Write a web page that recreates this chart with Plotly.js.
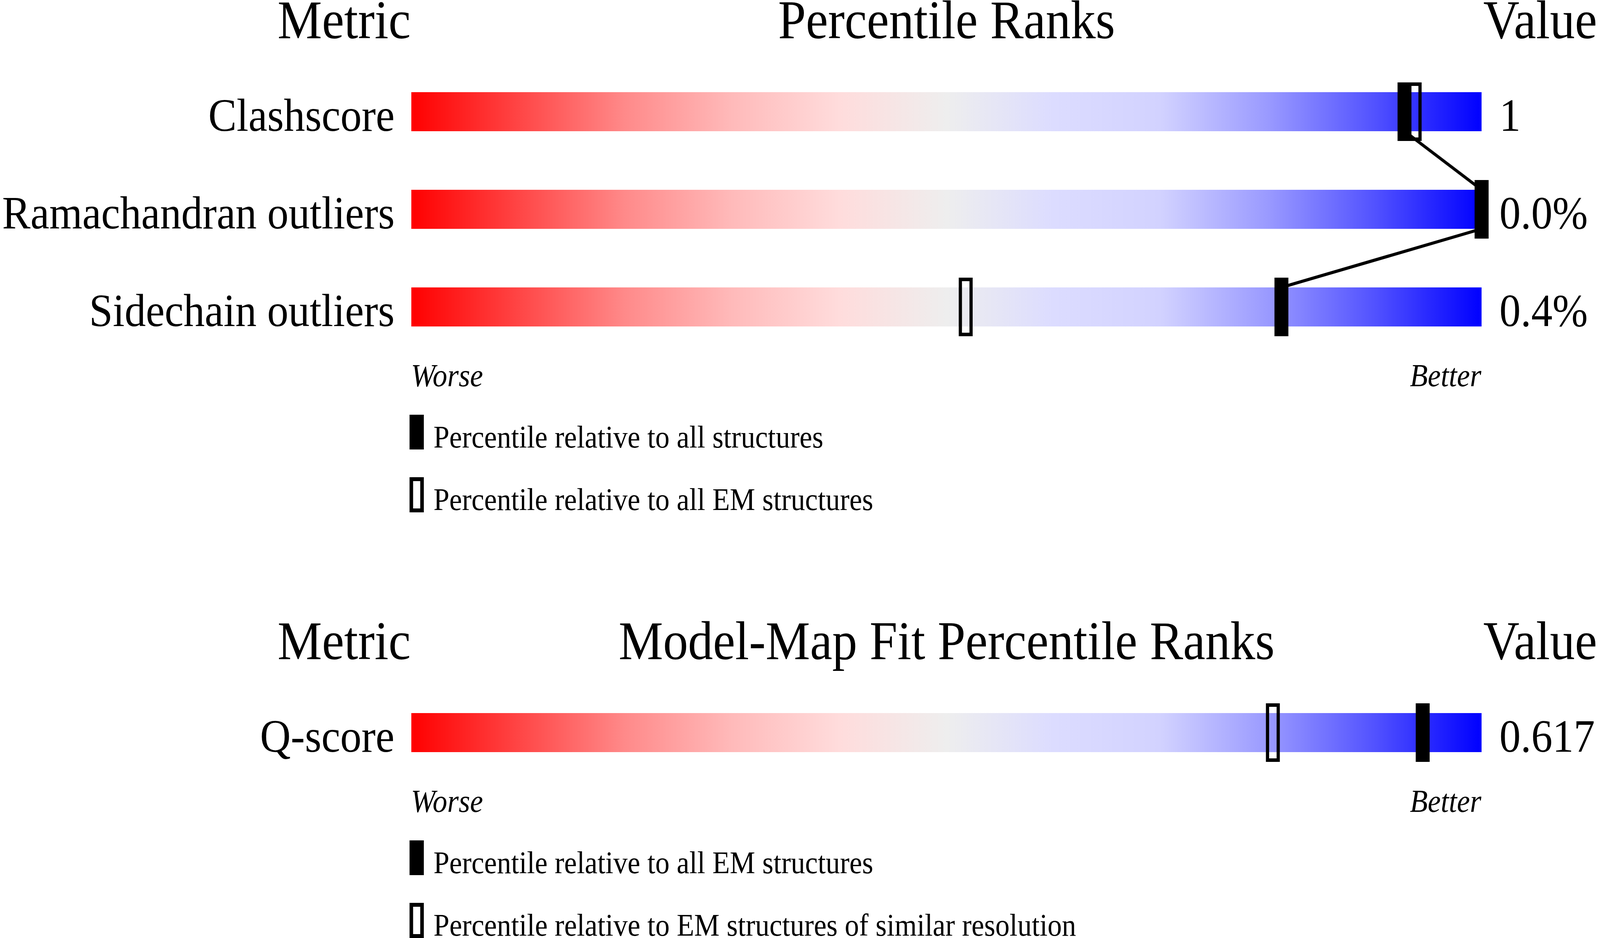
<!DOCTYPE html>
<html>
<head>
<meta charset="utf-8" />
<script src="https://cdn.plot.ly/plotly-3.0.1.min.js"></script>
<style>
  html, body { margin: 0; padding: 0; background: #fff; overflow: hidden; }
  #chart { width: 4485px; height: 2402px; transform-origin: 0 0; }
</style>
</head>
<body>
<div id="chart"></div>
<script>
  // Werte
  const geoTitle = "Percentile Ranks";
  const geoMetrics = ["Clashscore", "Ramachandran outliers", "Sidechain outliers"];
  const geoValues = ["1", "0.0%", "0.4%"];
  const geoAll = [92.8, 100, 81.3];
  const geoEM = [93.75, 100, 51.8];
  const geoLegend = ["Percentile relative to all structures", "Percentile relative to all EM structures"];

  const fitTitle = "Model-Map Fit Percentile Ranks";
  const fitMetrics = ["Q-score"];
  const fitValues = ["0.617"];
  const fitAll = [94.5];
  const fitSimilar = [80.5];
  const fitLegend = ["Percentile relative to all EM structures", "Percentile relative to EM structures of similar resolution"];

  // Layout ist für 4485x2402 gebaut, das Fenster kann kleiner sein -> auf Fenster strecken
  const W = 4485, H = 2402;
  const sx = (window.innerWidth || W) / W, sy = (window.innerHeight || H) / H;
  document.getElementById("chart").style.transform = `scale(${sx}, ${sy})`;

  const FONT = "Liberation Serif, Times New Roman, serif";
  // Balken 0..100 liegt auf x = 1153..4153, eine Zeile = 250 px
  const X0 = 1153, XS = 30, ROW = 250;
  const xRange = [-X0 / XS, (W - X0) / XS];

  const gradient = [
    [0, "#ff0000"], [0.1, "#ff4545"], [0.2, "#ff8a8a"], [0.3, "#ffbaba"],
    [0.4, "#ffdcdc"], [0.5, "#eeeeee"], [0.6, "#dcdcff"], [0.7, "#d2d2ff"],
    [0.8, "#9a9aff"], [0.9, "#5252ff"], [1, "#0000ff"]
  ];

  const panels = [
    { title: geoTitle, metrics: geoMetrics, values: geoValues, solid: geoAll, open: geoEM,
      legend: geoLegend, center: 286, axBar: "y", axMark: "y3", linked: true },
    { title: fitTitle, metrics: fitMetrics, values: fitValues, solid: fitAll, open: fitSimilar,
      legend: fitLegend, center: 1876, axBar: "y2", axMark: "y4", linked: false }
  ];

  const traces = [];
  const annotations = [];
  const shapes = [];
  const layout = {
    width: W, height: H, autosize: false,
    margin: { l: 0, r: 0, t: 0, b: 0 },
    paper_bgcolor: "white", plot_bgcolor: "white",
    showlegend: false, barmode: "overlay",
    xaxis: { range: xRange, visible: false, fixedrange: true },
    annotations, shapes
  };

  panels.forEach((p, pi) => {
    const range = [(H - p.center) / ROW, -p.center / ROW];
    const axBase = { range: range, visible: false, fixedrange: true };
    if (pi === 0) layout.yaxis = axBase;
    else layout["yaxis" + p.axBar.slice(1)] = Object.assign({ overlaying: "y" }, axBase);
    layout["yaxis" + p.axMark.slice(1)] = Object.assign({ overlaying: "y" }, axBase);
    const ref = p.axBar;
    const rows = p.metrics.map((_, i) => i);
    const last = rows.length - 1;

    // Farbverlaufsbalken
    rows.forEach((i) => {
      traces.push({
        type: "scatter", mode: "lines", yaxis: p.axBar,
        x: [0, 100, 100, 0, 0],
        y: [i - 0.2, i - 0.2, i + 0.2, i + 0.2, i - 0.2],
        fill: "toself", line: { width: 0 },
        fillgradient: { type: "horizontal", colorscale: gradient, start: 0, stop: 100 },
        hoverinfo: "skip"
      });
    });

    // offene Marker
    traces.push({
      type: "bar", yaxis: p.axMark, x: p.open, y: rows.map(() => 0.564),
      base: rows.map((i) => i - 0.282), width: 1.0,
      marker: { color: "rgba(0,0,0,0)", line: { color: "black", width: 9 } },
      hoverinfo: "skip"
    });
    // gefüllte Marker
    traces.push({
      type: "bar", yaxis: p.axMark, x: p.solid, y: rows.map(() => 0.6),
      base: rows.map((i) => i - 0.3), width: 1.3,
      marker: { color: "black", line: { width: 0 } },
      hoverinfo: "skip"
    });
    // Verbindungslinien zwischen den gefüllten Markern
    if (p.linked) {
      const lx = [], ly = [];
      for (let i = 0; i < last; i++) {
        lx.push(p.solid[i], p.solid[i + 1], null);
        ly.push(i + 0.2, i + 0.8, null);
      }
      traces.push({
        type: "scatter", mode: "lines", yaxis: p.axMark, x: lx, y: ly,
        line: { color: "black", width: 8 }, hoverinfo: "skip"
      });
    }

    const ann = (text, x, y, size, xanchor) =>
      annotations.push({
        text, x, y, xref: "x", yref: ref, xanchor, yanchor: "middle",
        showarrow: false, font: { family: FONT, size: size, color: "black" }
      });

    // Überschriften
    ann("Metric", 0, -0.944, 140, "right");
    ann(p.title, 50, -0.944, 140, "center");
    ann("Value", 100.1, -0.944, 140, "left");

    // Zeilenbeschriftungen und Werte
    rows.forEach((i) => {
      ann(p.metrics[i], -1.5, i + 0.034, 119, "right");
      ann(p.values[i], 101.6, i + 0.034, 119, "left");
    });

    ann("<i>Worse</i>", -0.1, last + 0.7, 82, "left");
    ann("<i>Better</i>", 100.05, last + 0.7, 82, "right");

    // Legende
    const lg = [last + 1.104, last + 1.744];
    shapes.push({
      type: "rect", xref: "x", yref: ref, x0: -0.167, x1: 1.167,
      y0: lg[0], y1: lg[0] + 0.356, fillcolor: "black", line: { width: 0 }
    });
    shapes.push({
      type: "rect", xref: "x", yref: ref, x0: 0, x1: 1.0,
      y0: lg[1] + 0.02, y1: lg[1] + 0.34, fillcolor: "rgba(0,0,0,0)",
      line: { color: "black", width: 10 }
    });
    ann(p.legend[0], 2.0, last + 1.333, 80, "left");
    ann(p.legend[1], 2.0, last + 1.973, 80, "left");
  });

  Plotly.newPlot("chart", traces, layout, { staticPlot: true, displayModeBar: false });
</script>
</body>
</html>
